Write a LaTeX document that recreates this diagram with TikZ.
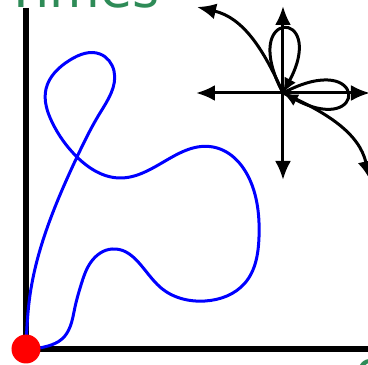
\documentclass[tikz,border=0pt]{standalone}
\usepackage{fontspec}
\newfontfamily\labelfont{DejaVu Sans}
\usetikzlibrary{arrows.meta,hobby}
\definecolor{labelgreen}{HTML}{2E8B57}
\begin{document}
\begin{tikzpicture}[x=1pt,y=1pt,
  axisline/.style={line width=6pt,black},
  curveline/.style={line width=3pt,blue},
  arrline/.style={line width=3pt,black,-{Latex[length=19pt,width=16pt]}},
  dblarr/.style={line width=3pt,black,{Latex[length=19pt,width=16pt]}-{Latex[length=19pt,width=16pt]}},
  looparr/.style={line width=3pt,black,-{Latex[length=15pt,width=13pt]}},
  titletext/.style={text=labelgreen,font=\labelfont\fontsize{52}{60}\selectfont,inner sep=0pt}]
\useasboundingbox (0,0) rectangle (368,365);
\clip (0,0) rectangle (368,365);
% title (cut off at top)
\node[titletext,anchor=base west] (title) at (5,357) {Times};
\node[titletext,anchor=north west] (xlab) at (355,6) {o};
% axes
\coordinate (origin) at (26,16);
\coordinate (ytop) at (26,357);
\coordinate (xend) at (372,16);
\draw[axisline] (ytop) -- (origin) -- (xend);
% blue closed curve
\draw[curveline,use Hobby shortcut] ([out angle=88]26,16) .. (30,70) .. (50,145) .. (77,208)
 .. (100,252) .. (114,294) .. (100,311) .. (70,305) .. (46,276) .. (52,243) .. (77,208)
 .. (120,187) .. (213,218) .. (252,180) .. (259,128) .. (245,82) .. (205,64) .. (160,78)
 .. (112,116) .. (91,103) .. (81,80) .. (75,58) .. (70,38) .. (62,26) .. (48,19) .. (28,16);
% red dot
\node[circle,fill=red,minimum size=29pt,inner sep=0pt] (dot) at (origin) {};
% arrow cross
\coordinate (C) at (283,272);
\coordinate (L) at (196,272);
\coordinate (R) at (370,272);
\coordinate (U) at (283,359);
\coordinate (D) at (283,185);
\coordinate (UL) at (197,358);
\coordinate (DR) at (370,185);
\draw[dblarr] (L) -- (R);
\draw[dblarr] (D) -- (U);
\draw[arrline] (C) to[out=114,in=-13] (UL);
\draw[arrline] (C) to[out=-24,in=103] (DR);
\draw[looparr] (C) .. controls +(118:97) and +(62:97) .. (C);
\draw[looparr] (C) .. controls +(28:97) and +(-28:97) .. (C);
\end{tikzpicture}
\end{document}
